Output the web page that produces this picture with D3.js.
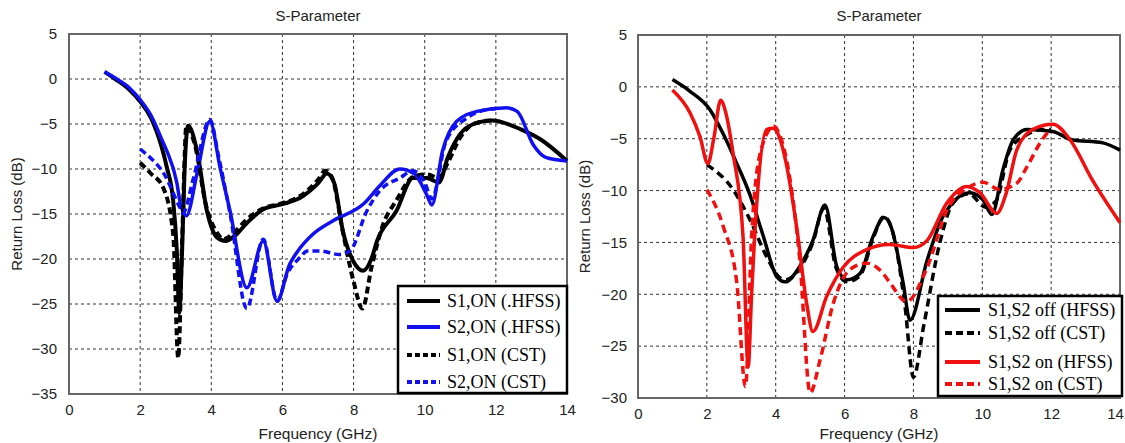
<!DOCTYPE html>
<html>
<head>
<meta charset="utf-8">
<script src="https://cdn.jsdelivr.net/npm/d3@7"></script>
<style>
  body { margin: 0; background: #fff; }
  svg { display: block; }
  .tick text { font-family: "Liberation Sans", Arial, sans-serif; font-size: 15px; fill: #222; }
</style>
</head>
<body>
<svg id="chart" width="1125" height="443"></svg>
<script>
// ---- data (frequency in GHz, return loss in dB) ----

// left panel
var s1OnHfssF  = [1, 1.3, 1.7, 2, 2.3, 2.6, 2.75, 2.93, 3.03, 3.1, 3.18, 3.25, 3.35, 3.6, 3.88, 4.16, 4.4, 4.67, 5.0, 5.45, 6, 6.5, 7.0, 7.25, 7.45, 7.7, 8.0, 8.27, 8.5, 8.66, 9.2, 9.67, 10.05, 10.4, 10.65, 11, 11.37, 11.9, 12.7, 13.25, 14];
var s1OnHfssDb = [0.8, 0, -1.2, -2.5, -4.3, -7.5, -9.8, -13.6, -19, -26, -19, -10, -5.2, -8, -14.7, -17.6, -18, -17.4, -16, -14.5, -13.9, -13.2, -11.6, -10.5, -11.5, -16.9, -20.3, -21.3, -20, -18, -14.7, -11, -11, -11.5, -8.7, -6.1, -5, -4.6, -5.6, -6.7, -9.1];

var s2OnHfssF  = [1, 1.3, 1.7, 2, 2.3, 2.64, 2.75, 3.03, 3.12, 3.3, 3.6, 3.96, 4.25, 4.53, 5.0, 5.46, 5.85, 6.2, 6.4, 6.87, 7.4, 8.3, 8.75, 9.3, 9.7, 10.05, 10.2, 10.5, 10.9, 11.47, 12.3, 12.6, 13.05, 13.4, 14];
var s2OnHfssDb = [0.8, 0.1, -1, -2.3, -4, -7, -8, -11.5, -13.6, -15.2, -10.5, -4.7, -9.9, -14.7, -23.2, -18, -24.7, -20.6, -19.3, -17.2, -15.8, -13.8, -11.8, -10, -10.5, -12.8, -14, -8, -4.7, -3.6, -3.2, -3.6, -7.3, -8.7, -9.1];

var s1OnCstF  = [2, 2.3, 2.65, 2.93, 3.07, 3.18, 3.3, 3.55, 3.85, 4.15, 4.35, 4.6, 5.0, 5.45, 6, 6.5, 7.0, 7.2, 7.4, 7.7, 8.0, 8.25, 8.5, 8.8, 9.2, 9.7, 10.05, 10.4, 10.65, 11, 11.37, 11.9, 12];
var s1OnCstDb = [-9.3, -10.5, -12.1, -17.3, -31, -18, -5.2, -7.5, -14, -17, -17.8, -17.2, -15.6, -14.4, -13.8, -13, -11.2, -10.2, -11, -17, -22.5, -25.5, -21, -16.5, -13.5, -10.8, -10.6, -11, -9.3, -6.5, -5, -4.6, -4.6];

var s2OnCstF  = [2, 2.3, 2.65, 3.12, 3.2, 3.5, 3.96, 4.2, 4.53, 5.0, 5.46, 5.85, 6.13, 6.5, 6.7, 7.05, 7.6, 7.9, 8.37, 8.74, 9.3, 9.67, 10.0, 10.2, 10.6, 11.2, 11.75, 12];
var s2OnCstDb = [-7.8, -8.8, -10.4, -14.3, -14.9, -11, -4.5, -8.5, -15, -25.5, -17.8, -24.7, -21.7, -19.8, -19.1, -19.1, -19.5, -19.1, -14.7, -12.4, -11, -10.2, -11.5, -13.3, -6.9, -4.3, -3.4, -3.3];

// right panel
var offHfssF  = [1, 1.5, 2.09, 2.47, 2.87, 3.25, 3.64, 4.03, 4.27, 4.7, 5.08, 5.43, 5.78, 6.07, 6.45, 6.83, 7.15, 7.35, 7.7, 7.9, 8.4, 8.86, 9.64, 10.02, 10.28, 10.6, 10.9, 11.3, 12.05, 12.6, 13.5, 14];
var offHfssDb = [0.7, -0.4, -2.2, -4.5, -7.4, -10.4, -14.4, -18.3, -18.8, -17.3, -14.8, -11.4, -17.4, -18.6, -18, -14.4, -12.6, -13.5, -18.9, -22.5, -16.7, -12.5, -10.2, -10.9, -12.3, -8, -5.1, -4.1, -4.3, -5.1, -5.4, -6.1];

var offCstF  = [2, 2.76, 3.25, 3.74, 4.12, 4.3, 4.7, 5.08, 5.4, 5.75, 6.07, 6.45, 6.83, 7.15, 7.4, 7.75, 8.0, 8.3, 8.77, 9.15, 9.6, 10.1, 10.4, 10.8, 11.3, 11.77, 12];
var offCstDb = [-7.5, -9.9, -12.8, -16.4, -18.4, -18.6, -17.5, -15, -11.7, -17.4, -18.8, -18.2, -14.6, -12.5, -14, -21, -28, -23, -15, -11.2, -10.3, -11.6, -11, -6.1, -4.6, -4.1, -4.1];

var onHfssF  = [1, 1.51, 1.8, 2.03, 2.2, 2.4, 2.55, 2.76, 3.05, 3.2, 3.3, 3.45, 3.74, 3.92, 4.1, 4.3, 4.62, 4.9, 5.08, 5.48, 5.96, 6.64, 7.3, 8.0, 8.4, 8.97, 9.55, 9.93, 10.42, 10.7, 11.0, 11.47, 12.05, 12.55, 13.2, 14];
var onHfssDb = [-0.3, -2.5, -4.8, -7.4, -5, -1.3, -2.5, -6.4, -14.4, -27, -20, -11.2, -4.1, -4, -4.8, -7.3, -13.8, -20.9, -23.6, -20.2, -17.4, -15.7, -15.2, -15.5, -14.8, -11.2, -9.6, -10.2, -12.2, -10.2, -6.1, -4.1, -3.6, -5.1, -9, -13.1];

var onCstF  = [2, 2.48, 2.87, 3.12, 3.3, 3.55, 3.95, 4.1, 4.42, 4.7, 5.0, 5.29, 5.67, 6.16, 6.64, 7.12, 7.32, 7.8, 8.4, 8.97, 9.64, 10.02, 10.5, 11, 11.3, 11.68, 11.97];
var onCstDb = [-9.9, -13.5, -18.9, -28.9, -14.4, -6.4, -3.8, -4.5, -9, -16.7, -29.5, -26.3, -20.9, -17.6, -17, -18, -18.9, -20.7, -17.4, -11.9, -9.6, -9.2, -9.9, -9.3, -7.7, -5.4, -4.1];

var xTicks      = [0, 2, 4, 6, 8, 10, 12, 14];
var yTicksLeft  = [5, 0, -5, -10, -15, -20, -25, -30, -35];
var yTicksRight = [5, 0, -5, -10, -15, -20, -25, -30];

var leftLabels  = ["S1,ON (.HFSS)", "S2,ON (.HFSS)", "S1,ON (CST)", "S2,ON (CST)"];
var rightLabels = ["S1,S2 off (HFSS)", "S1,S2 off (CST)", "S1,S2 on (HFSS)", "S1,S2 on (CST)"];

function zipSeries(f, db) {
  return f.map(function (v, i) { return { f: v, db: db[i] }; });
}

var svg = d3.select("#chart");

function drawPanel(p) {
  var x = d3.scaleLinear().domain([0, 14]).range([p.x0, p.x1]);
  var y = d3.scaleLinear().domain(p.yDomain).range([p.y1, p.y0]);

  var g = svg.append("g");

  // grid
  g.selectAll(".vgrid")
    .data(xTicks.slice(1, -1))
    .enter().append("line")
    .attr("x1", function (d) { return x(d); })
    .attr("x2", function (d) { return x(d); })
    .attr("y1", p.y0).attr("y2", p.y1)
    .attr("stroke", "#333").attr("stroke-width", 1)
    .attr("stroke-dasharray", "3,3");

  g.selectAll(".hgrid")
    .data(p.yTicks.slice(1, -1))
    .enter().append("line")
    .attr("x1", p.x0).attr("x2", p.x1)
    .attr("y1", function (d) { return y(d); })
    .attr("y2", function (d) { return y(d); })
    .attr("stroke", "#333").attr("stroke-width", 1)
    .attr("stroke-dasharray", "3,3");

  // axes (labels only, frame drawn below)
  var xa = g.append("g")
    .attr("transform", "translate(0," + p.y1 + ")")
    .call(d3.axisBottom(x).tickValues(xTicks).tickSize(0).tickPadding(10))
    .call(function (a) { a.select(".domain").remove(); });
  // last label sits on the page edge on the right panel
  xa.selectAll(".tick text").attr("dx", function (d) { return d === 14 ? p.lastDx : 0; });

  g.append("g")
    .attr("transform", "translate(" + p.x0 + ",0)")
    .call(d3.axisLeft(y).tickValues(p.yTicks).tickSize(0).tickPadding(p.yPad))
    .call(function (a) { a.select(".domain").remove(); });

  // frame
  g.append("rect")
    .attr("x", p.x0).attr("y", p.y0)
    .attr("width", p.x1 - p.x0).attr("height", p.y1 - p.y0)
    .attr("fill", "none").attr("stroke", "#666").attr("stroke-width", 2);

  // curves
  var line = d3.line()
    .x(function (d) { return x(d.f); })
    .y(function (d) { return y(d.db); })
    .curve(d3.curveMonotoneX);

  p.series.forEach(function (s) {
    g.append("path")
      .datum(zipSeries(s.f, s.db))
      .attr("d", line)
      .attr("fill", "none")
      .attr("stroke", s.color)
      .attr("stroke-width", s.width)
      .attr("stroke-linejoin", "round")
      .attr("stroke-dasharray", s.dash ? s.dash : null);
  });

  // title and axis labels
  g.append("text")
    .attr("x", (p.x0 + p.x1) / 2).attr("y", 21)
    .attr("text-anchor", "middle")
    .style("font-family", "Liberation Sans, Arial, sans-serif")
    .style("font-size", "15px").attr("fill", "#222")
    .text("S-Parameter");

  g.append("text")
    .attr("x", (p.x0 + p.x1) / 2).attr("y", 439)
    .attr("text-anchor", "middle")
    .style("font-family", "Liberation Sans, Arial, sans-serif")
    .style("font-size", "15.5px").attr("fill", "#222")
    .text("Frequency (GHz)");

  g.append("text")
    .attr("transform", "translate(" + p.yLabelX + "," + ((p.y0 + p.y1) / 2) + ") rotate(-90)")
    .attr("text-anchor", "middle")
    .style("font-family", "Liberation Sans, Arial, sans-serif")
    .style("font-size", "15px").attr("fill", "#222")
    .text("Return Loss (dB)");

  // legend
  var L = p.legend;
  g.append("rect")
    .attr("x", L.x).attr("y", L.y)
    .attr("width", L.w).attr("height", L.h)
    .attr("fill", "#fff").attr("stroke", "#000").attr("stroke-width", 2.5);

  p.series.forEach(function (s, i) {
    var ly = L.rows[i];
    g.append("line")
      .attr("x1", L.x + L.s0).attr("x2", L.x + L.s1)
      .attr("y1", ly).attr("y2", ly)
      .attr("stroke", s.color).attr("stroke-width", 4)
      .attr("stroke-dasharray", s.dash ? L.dash : null);
    g.append("text")
      .attr("x", L.x + L.tx).attr("y", ly + 6)
      .style("font-family", "Liberation Serif, Times New Roman, serif")
      .style("font-size", "18px").attr("fill", "#000")
      .text(p.labels[i]);
  });
}

drawPanel({
  x0: 69, x1: 567, y0: 34, y1: 394,
  yDomain: [-35, 5], yTicks: yTicksLeft, yPad: 12, yLabelX: 22, lastDx: 0,
  labels: leftLabels,
  series: [
    { f: s1OnHfssF, db: s1OnHfssDb, color: "#000", width: 4 },
    { f: s2OnHfssF, db: s2OnHfssDb, color: "#1010f0", width: 3.5 },
    { f: s1OnCstF,  db: s1OnCstDb,  color: "#000", width: 4, dash: "7,4" },
    { f: s2OnCstF,  db: s2OnCstDb,  color: "#1010f0", width: 3.5, dash: "7,4" }
  ],
  legend: { x: 398, y: 286, w: 169, h: 107, s0: 9, s1: 42, tx: 49, dash: "5,3",
            rows: [301, 327, 355, 382] }
});

drawPanel({
  x0: 638, x1: 1120, y0: 35, y1: 398,
  yDomain: [-30, 5], yTicks: yTicksRight, yPad: 11, yLabelX: 590, lastDx: -5,
  labels: rightLabels,
  series: [
    { f: offHfssF, db: offHfssDb, color: "#000", width: 3.5 },
    { f: offCstF,  db: offCstDb,  color: "#000", width: 3.5, dash: "8,5" },
    { f: onHfssF,  db: onHfssDb,  color: "#f01010", width: 3.5 },
    { f: onCstF,   db: onCstDb,   color: "#f01010", width: 3.5, dash: "8,5" }
  ],
  legend: { x: 938, y: 296, w: 184, h: 100, s0: 7, s1: 42, tx: 50, dash: "7,4",
            rows: [310, 333, 362, 384] }
});
</script>
</body>
</html>
